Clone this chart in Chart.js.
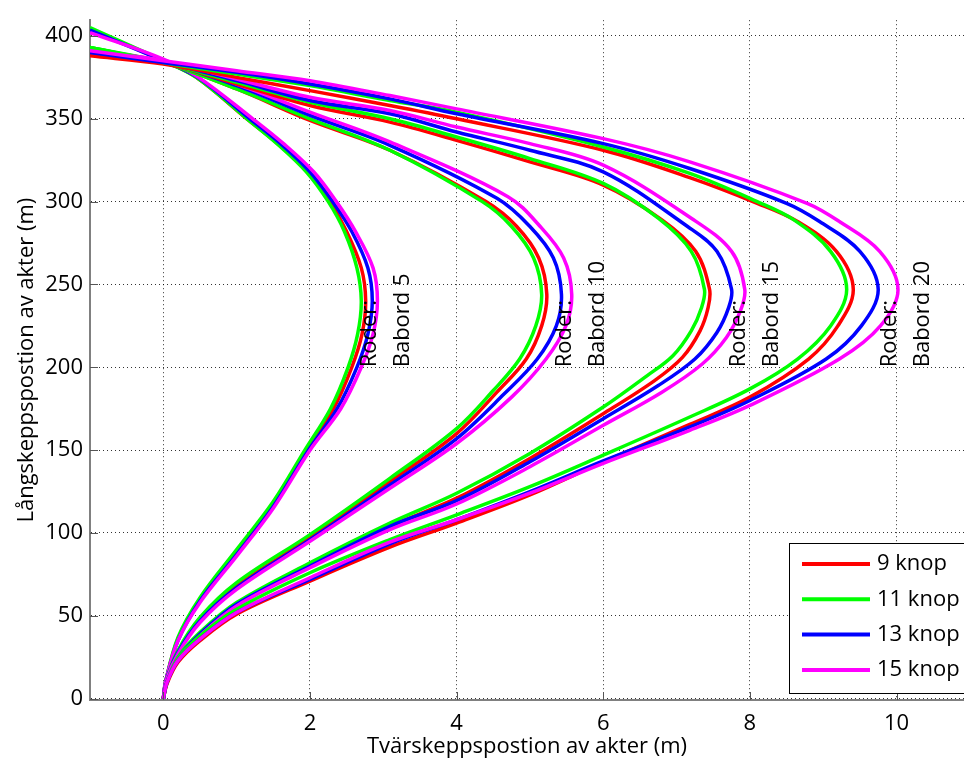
<!DOCTYPE html>
<html>
<head>
<meta charset="utf-8">
<script src="https://cdn.jsdelivr.net/npm/chart.js@4"></script>
<style>
  html, body { margin: 0; padding: 0; background: #fff; }
</style>
</head>
<body>
<canvas id="turn_chart" width="964" height="771"></canvas>
<script>
// Speeds in legend order and the colour of each
const speedLabels = ['9 knop', '11 knop', '13 knop', '15 knop']
const speedColors = ['#ff0000', '#00ff00', '#0000ff', '#ff00ff']
// Rudder notes: x (m) of the first text line, text starts at y = 200 m
const rudderLabels = ['Babord 5', 'Babord 10', 'Babord 15', 'Babord 20']
const rudderNoteX = [2.82, 5.47, 7.85, 9.91]
const noteStartY = 200
// Tick values
const xTicks = [0, 2, 4, 6, 8, 10]
const yTicks = [0, 50, 100, 150, 200, 250, 300, 350, 400]

// Stern tracks [x, y]. One array per rudder angle and speed
// Rudder babord 5
const r5_9 = [[0,0],[0.03,10],[0.2,36],[0.5,60],[1,89],[1.5,118],[1.95,150],[2.32,175],[2.57,200],[2.71,220],[2.76,240],[2.70,260],[2.50,282],[2.27,300],[1.97,318],[1.56,335],[1.14,350],[0.45,375],[0,385],[-1,404]]
const r5_11 = [[0,0],[0.03,10],[0.2,37],[0.5,61],[1,90],[1.5,119],[1.93,150],[2.28,175],[2.52,200],[2.65,220],[2.70,240],[2.64,260],[2.47,282],[2.25,300],[1.95,318],[1.55,335],[1.14,350],[0.45,375],[0,385],[-1,405]]
const r5_13 = [[0,0],[0.03,10],[0.2,35],[0.5,59],[1,87],[1.5,116],[1.98,150],[2.37,175],[2.64,200],[2.79,220],[2.85,240],[2.79,260],[2.57,282],[2.31,300],[2.0,318],[1.6,335],[1.18,350],[0.47,375],[0,385],[-1,403.5]]
const r5_15 = [[0,0],[0.03,10],[0.2,35],[0.5,58],[1,86],[1.5,115],[2.0,150],[2.42,175],[2.70,200],[2.86,220],[2.92,240],[2.86,260],[2.62,282],[2.36,300],[2.05,318],[1.64,335],[1.22,350],[0.48,375],[0,386],[-1,402]]
// Rudder babord 10
const r10_9 = [[0,0],[0.04,11],[0.2,28],[0.5,48],[1,68],[2,97],[3.09,131],[4,160],[4.55,185],[4.95,205],[5.16,225],[5.23,244],[5.12,266],[4.82,285],[4.4,300],[3.09,331],[2,349],[1,368],[0,384],[-1,392]]
const r10_11 = [[0,0],[0.04,11],[0.2,29],[0.5,49],[1,70],[2,99],[3.09,133],[4,163],[4.5,186],[4.86,205],[5.08,225],[5.16,244],[5.05,266],[4.75,285],[4.35,300],[3.09,331],[2,350],[1,368],[0,384],[-1,393]]
const r10_13 = [[0,0],[0.04,11],[0.2,28],[0.5,47],[1,67],[2,96],[3.09,129],[4,157],[4.65,184],[5.1,205],[5.36,225],[5.43,244],[5.32,266],[5.0,285],[4.55,302],[3.09,334],[2,352],[1,370],[0,384],[-1,390]]
const r10_15 = [[0,0],[0.04,11],[0.2,27],[0.5,46],[1,66],[2,95],[3.09,127],[4,154],[4.75,182],[5.22,205],[5.49,225],[5.57,244],[5.46,266],[5.14,285],[4.7,303],[3.09,336],[2,354],[1,371],[0,385],[-1,391]]
// Rudder babord 15
const r15_9 = [[0,0],[0.05,10],[0.2,24],[0.5,39],[1,57],[2,80],[3.09,104],[4,121],[5,145],[6,172],[6.7,192],[7.08,206],[7.32,222],[7.43,236],[7.45,247],[7.26,270],[6.8,289],[6.0,310],[5,324],[4,337],[3.09,348],[2,358],[1,371],[0,384],[-1,392]]
const r15_11 = [[0,0],[0.05,10],[0.2,25],[0.5,40],[1,58],[2,82],[3.09,106],[4,124],[5,148],[6,176],[6.6,195],[6.95,207],[7.2,222],[7.34,236],[7.38,247],[7.2,270],[6.75,290],[6.0,311],[5,326],[4,339],[3.09,350],[2,360],[1,372],[0,384],[-1,393]]
const r15_13 = [[0,0],[0.05,10],[0.2,24],[0.5,39],[1,57],[2,80],[3.09,104],[4,119.5],[5,143],[6,169],[6.75,189],[7.25,205],[7.55,221],[7.71,236],[7.75,247],[7.55,270],[7.15,285],[6.0,318],[5,331],[4,342],[3.09,353],[2,361],[1,373],[0,384],[-1,390]]
const r15_15 = [[0,0],[0.05,10],[0.2,24],[0.5,38],[1,56],[2,79],[3.09,102],[4,117.5],[5,140],[6,165],[6.8,185],[7.35,202],[7.68,218],[7.87,234],[7.93,247],[7.75,270],[7.2,290],[6.0,322],[5,335],[4,345],[3.09,355],[2,363],[1,374],[0,385],[-1,391]]
// Rudder babord 20
const r20_9 = [[0,0],[0.05,9],[0.2,22],[0.5,35],[1,51],[2,71],[3.09,91.5],[4,106],[5,123],[6,143],[7.18,165.5],[8,182],[8.8,205],[9.2,225],[9.41,247],[9.18,270],[8.65,288],[8.1,299],[7.18,314.5],[6,331],[4,350],[3.09,358],[2,367],[1,375],[0,383],[-1,388]]
const r20_11 = [[0,0],[0.05,10],[0.2,24],[0.5,38],[1,54],[2,76],[3.09,96],[4,111],[5,128],[6,147],[7.18,170],[8,187],[8.65,205],[9.1,225],[9.32,247],[9.1,270],[8.6,289],[8.1,300],[7.18,317],[6,333],[4,354],[3.09,361],[2,370],[1,377],[0,384],[-1,393]]
const r20_13 = [[0,0],[0.05,10],[0.2,23],[0.5,36],[1,52],[2,72],[3.09,93.5],[4,108],[5,125],[6,143.5],[7.18,164],[8,180],[9.04,205],[9.52,225],[9.75,247],[9.5,270],[8.95,288],[8.5,299],[7.18,320],[6,335],[4,353],[3.09,362],[2,371],[1,378],[0,384],[-1,390]]
const r20_15 = [[0,0],[0.05,10],[0.2,23],[0.5,36],[1,52],[2,73],[3.09,94.5],[4,108],[5,124],[6,142],[7.18,162],[8,177],[9.22,205],[9.78,225],[10.02,247],[9.77,270],[9.22,288],[8.78,299],[7.18,324],[6,338],[4,356],[3.09,364],[2,373],[1,379],[0,385],[-1,391]]

// Plot order: one rudder angle at a time, the four speeds each
const tracks = [
  [r5_9, r5_11, r5_13, r5_15],
  [r10_9, r10_11, r10_13, r10_15],
  [r15_9, r15_11, r15_13, r15_15],
  [r20_9, r20_11, r20_13, r20_15]
]

let datasets = []
tracks.forEach((group, g) => {
  group.forEach((track, s) => {
    datasets.push({
      label: speedLabels[s] + ' ' + rudderLabels[g],
      data: track,
      showLine: true,
      borderColor: speedColors[s],
      backgroundColor: speedColors[s],
      borderWidth: 3.5,
      pointRadius: 0,
      tension: 0.35,
      order: -datasets.length // later tracks drawn on top, like the original
    })
  })
})

const FONT = "'Open Sans', sans-serif"
Chart.defaults.font.family = FONT
Chart.defaults.font.size = 22
Chart.defaults.color = '#000'

// Inward tick marks, rudder notes and the boxed legend
const extras = {
  id: 'extras',
  afterDatasetsDraw(chart) {
    const ctx = chart.ctx
    const xs = chart.scales.x, ys = chart.scales.y
    const area = chart.chartArea
    ctx.save()
    // ticks pointing into the plot
    ctx.strokeStyle = '#555'
    ctx.lineWidth = 1
    xTicks.forEach(v => {
      let px = Math.round(xs.getPixelForValue(v)) + 0.5
      ctx.beginPath(); ctx.moveTo(px, area.bottom); ctx.lineTo(px, area.bottom - 8); ctx.stroke()
    })
    yTicks.forEach(v => {
      let py = Math.round(ys.getPixelForValue(v)) + 0.5
      ctx.beginPath(); ctx.moveTo(area.left, py); ctx.lineTo(area.left + 8, py); ctx.stroke()
    })
    // rotated rudder notes
    ctx.fillStyle = '#000'
    ctx.font = '22px ' + FONT
    ctx.textAlign = 'left'
    ctx.textBaseline = 'middle'
    rudderLabels.forEach((txt, i) => {
      let px = xs.getPixelForValue(rudderNoteX[i])
      let py = ys.getPixelForValue(noteStartY)
      ;['Roder:', txt].forEach((line, k) => {
        ctx.save()
        ctx.translate(px + k * 33, py)
        ctx.rotate(-Math.PI / 2)
        ctx.fillText(line, 0, 0)
        ctx.restore()
      })
    })
    // legend box in the lower right corner
    let left = area.right - 175, top = area.bottom - 157
    ctx.fillStyle = '#fff'
    ctx.fillRect(left, top, 185, 150)
    ctx.strokeStyle = '#000'
    ctx.lineWidth = 1
    ctx.strokeRect(left + 0.5, top + 0.5, 185, 150)
    speedLabels.forEach((lab, i) => {
      let y = top + 21 + i * 35.3
      ctx.strokeStyle = speedColors[i]
      ctx.lineWidth = 4
      ctx.beginPath(); ctx.moveTo(left + 13, y); ctx.lineTo(left + 81, y); ctx.stroke()
      ctx.fillStyle = '#000'
      ctx.fillText(lab, left + 88, y)
    })
    ctx.restore()
  }
}

let ctx = document.getElementById('turn_chart')
new Chart(ctx, {
  type: 'scatter',
  data: { datasets: datasets },
  options: {
    responsive: false,
    animation: false,
    devicePixelRatio: 1,
    layout: { padding: { top: 9, right: 0, bottom: 0, left: 0 } },
    plugins: { legend: { display: false }, tooltip: { enabled: false } },
    scales: {
      x: {
        type: 'linear',
        min: -1,
        max: 10.92,
        afterBuildTicks: axis => { axis.ticks = xTicks.map(v => ({ value: v })) },
        afterFit: axis => { axis.height = 71 },
        ticks: { padding: 11, maxRotation: 0, callback: v => v },
        grid: { color: 'rgba(0,0,0,0.8)', lineWidth: 1, drawTicks: false },
        border: { display: true, color: '#808080', width: 2, dash: [1, 3] },
        title: { display: true, text: 'Tvärskeppspostion av akter (m)', padding: { top: 0, bottom: 11 } }
      },
      y: {
        type: 'linear',
        min: -0.8,
        max: 409.5,
        afterBuildTicks: axis => { axis.ticks = yTicks.map(v => ({ value: v })) },
        afterFit: axis => { axis.width = 90 },
        ticks: { padding: 7, callback: v => v },
        grid: { color: 'rgba(0,0,0,0.8)', lineWidth: 1, drawTicks: false },
        border: { display: true, color: '#808080', width: 2, dash: [1, 3] },
        title: { display: true, text: 'Långskeppspostion av akter (m)', padding: { top: 14, bottom: 0 } }
      }
    }
  },
  plugins: [extras]
})
</script>
</body>
</html>
